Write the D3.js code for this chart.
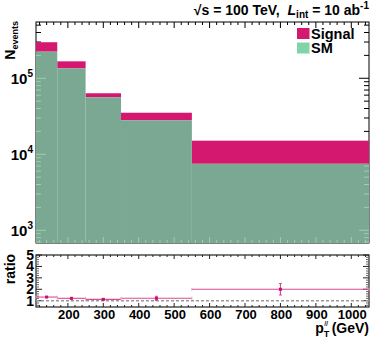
<!DOCTYPE html>
<html>
<head>
<meta charset="utf-8">
<script src="https://cdn.jsdelivr.net/npm/d3@7"></script>
<style>
  body { margin: 0; background: #fff; }
  text { font-family: "Liberation Sans", Arial, sans-serif; font-weight: bold; fill: #000; }
</style>
</head>
<body>
<div class="chart"></div>
<script>
// Bin edges of the pT(ll) histogram (GeV)
const binEdges = [110, 170, 250, 350, 550, 1050];
// Stacked event counts per bin
const smValues = [224000, 135000, 56300, 28000, 7500];
const signalValues = [74000, 32000, 7200, 7200, 7600];
// Ratio (Signal+SM)/SM with errors
const ratioCenters = [140, 210, 300, 450, 800];
const ratioValues = [1.32, 1.21, 1.12, 1.21, 2.0];
const ratioErrors = [0.04, 0.06, 0.06, 0.18, 0.5];
// Tick labels
const xTickLabels = [200, 300, 400, 500, 600, 700, 800, 900, 1000];
const yTickExponents = [3, 4, 5];
const ratioTickLabels = [1, 2, 3, 4, 5];

const W = 374, H = 340;
const left = 36, right = 369;
const top1 = 22, bottom1 = 243;
const top2 = 255, bottom2 = 307;

const sigColor = "#d4176f";
const smColor = "#7aa892";
const smLegend = "#80d4a8";

const svg = d3.select(".chart").append("svg")
    .attr("width", W).attr("height", H);

const x = d3.scaleLinear().domain([110, 1050]).range([left, right]);
const y = d3.scaleLog().domain([680, 550000]).range([bottom1, top1]);
const yr = d3.scaleLinear().domain([0.45, 5.0]).range([bottom2, top2]);

const bins = smValues.map((v, i) => ({
    x0: binEdges[i], x1: binEdges[i + 1], sm: v, total: v + signalValues[i]
}));

// minor / major ticks for x
const xMajor = d3.range(200, 1001, 100);
const xMinor = d3.range(120, 1050, 20).filter(v => v % 100 !== 0);

// log ticks for upper y
const yMajor = yTickExponents.map(e => Math.pow(10, e));
const yMinor = [];
for (let e = 2; e <= 5; e++) for (let m = 2; m <= 9; m++) {
    const v = m * Math.pow(10, e);
    if (v > 680 && v < 550000) yMinor.push(v);
}

function drawUpperTicks(g, color) {
    g.selectAll(null).data(xMajor).enter().append("line")
        .attr("x1", d => x(d)).attr("x2", d => x(d))
        .attr("y1", top1).attr("y2", top1 + 6).attr("stroke", color);
    g.selectAll(null).data(xMinor).enter().append("line")
        .attr("x1", d => x(d)).attr("x2", d => x(d))
        .attr("y1", top1).attr("y2", top1 + 3).attr("stroke", color);
    g.selectAll(null).data(xMajor).enter().append("line")
        .attr("x1", d => x(d)).attr("x2", d => x(d))
        .attr("y1", bottom1).attr("y2", bottom1 - 6).attr("stroke", color);
    g.selectAll(null).data(xMinor).enter().append("line")
        .attr("x1", d => x(d)).attr("x2", d => x(d))
        .attr("y1", bottom1).attr("y2", bottom1 - 3).attr("stroke", color);
    [[left, 1], [right, -1]].forEach(([px, dir]) => {
        g.selectAll(null).data(yMajor).enter().append("line")
            .attr("x1", px).attr("x2", px + dir * 10)
            .attr("y1", d => y(d)).attr("y2", d => y(d)).attr("stroke", color);
        g.selectAll(null).data(yMinor).enter().append("line")
            .attr("x1", px).attr("x2", px + dir * 5)
            .attr("y1", d => y(d)).attr("y2", d => y(d)).attr("stroke", color);
    });
}

// Upper panel ticks and frame (under hist)
const axesUnder = svg.append("g");
drawUpperTicks(axesUnder, "#000");
axesUnder.append("rect")
    .attr("x", left).attr("y", top1)
    .attr("width", right - left).attr("height", bottom1 - top1)
    .attr("fill", "none").attr("stroke", "#000");

// Stacked histogram
svg.append("g").selectAll("rect").data(bins).enter().append("rect")
    .attr("x", d => x(d.x0)).attr("width", d => x(d.x1) - x(d.x0))
    .attr("y", d => y(d.total)).attr("height", d => y(d.sm) - y(d.total))
    .attr("fill", sigColor);
svg.append("g").selectAll("rect").data(bins).enter().append("rect")
    .attr("x", d => x(d.x0)).attr("width", d => x(d.x1) - x(d.x0))
    .attr("y", d => y(d.sm)).attr("height", d => bottom1 - y(d.sm))
    .attr("fill", smColor);

// ticks seen through the SM fill
const clip = svg.append("clipPath").attr("id", "smclip");
clip.selectAll("rect").data(bins).enter().append("rect")
    .attr("x", d => x(d.x0)).attr("width", d => x(d.x1) - x(d.x0))
    .attr("y", d => y(d.sm)).attr("height", d => bottom1 - y(d.sm));
const axesOver = svg.append("g").attr("clip-path", "url(#smclip)");
drawUpperTicks(axesOver, "#9ccfae");

// Upper y labels
const yl = svg.append("g");
yTickExponents.forEach(e => {
    const t = yl.append("text")
        .attr("x", 33).attr("y", y(Math.pow(10, e)) + 6)
        .attr("text-anchor", "end").attr("font-size", 15);
    t.append("tspan").text("10");
    t.append("tspan").attr("dy", -7).attr("font-size", 10).text(e);
});

// Y title
const yt = svg.append("text")
    .attr("transform", "translate(15,21) rotate(-90)")
    .attr("text-anchor", "end").attr("font-size", 14);
yt.append("tspan").text("N");
yt.append("tspan").attr("dy", 3).attr("font-size", 9).text("events");

// Title
const tt = svg.append("text").attr("x", 369).attr("y", 15)
    .attr("text-anchor", "end").attr("font-size", 14);
tt.append("tspan").text("\u221As = 100 TeV,\u00a0\u00a0");
tt.append("tspan").attr("font-style", "italic").text("L");
tt.append("tspan").attr("dy", 3).attr("font-size", 10).text("int");
tt.append("tspan").attr("dy", -3).text(" = 10 ab");
tt.append("tspan").attr("dy", -6).attr("font-size", 10).text("-1");

// Legend
const legend = [{ label: "Signal", color: sigColor }, { label: "SM", color: smLegend }];
const lg = svg.append("g");
legend.forEach((d, i) => {
    lg.append("rect").attr("x", 297).attr("y", 28 + i * 14.5)
        .attr("width", 12.5).attr("height", 11).attr("fill", d.color);
    lg.append("text").attr("x", 311).attr("y", 38.5 + i * 14.5)
        .attr("font-size", 14.5).text(d.label);
});

// ---- Ratio panel ----
const rg = svg.append("g");
rg.append("rect")
    .attr("x", left).attr("y", top2)
    .attr("width", right - left).attr("height", bottom2 - top2)
    .attr("fill", "none").attr("stroke", "#222").attr("stroke-width", 1.2);

const rMinor = d3.range(0.6, 5.0, 0.2).filter(v => Math.abs(v - Math.round(v)) > 0.01);
[[top2, 1], [bottom2, -1]].forEach(([py, dir]) => {
    rg.selectAll(null).data(xMajor).enter().append("line")
        .attr("x1", d => x(d)).attr("x2", d => x(d))
        .attr("y1", py).attr("y2", py + dir * 4).attr("stroke", "#222");
    rg.selectAll(null).data(xMinor).enter().append("line")
        .attr("x1", d => x(d)).attr("x2", d => x(d))
        .attr("y1", py).attr("y2", py + dir * 2).attr("stroke", "#222");
});
[[left, 1], [right, -1]].forEach(([px, dir]) => {
    rg.selectAll(null).data(ratioTickLabels).enter().append("line")
        .attr("x1", px).attr("x2", px + dir * 6)
        .attr("y1", d => yr(d)).attr("y2", d => yr(d)).attr("stroke", "#222");
    rg.selectAll(null).data(rMinor).enter().append("line")
        .attr("x1", px).attr("x2", px + dir * 3)
        .attr("y1", d => yr(d)).attr("y2", d => yr(d)).attr("stroke", "#666");
});

// dashed line at 1
rg.append("line")
    .attr("x1", left).attr("x2", right)
    .attr("y1", yr(1)).attr("y2", yr(1))
    .attr("stroke", "#999").attr("stroke-width", 1.6).attr("stroke-dasharray", "3,2");

// ratio points
const rdata = ratioValues.map((v, i) => ({
    x0: binEdges[i], x1: binEdges[i + 1], c: ratioCenters[i], v, e: ratioErrors[i]
}));
rg.selectAll(".hl").data(rdata).enter().append("line")
    .attr("x1", d => x(d.x0)).attr("x2", d => x(d.x1))
    .attr("y1", d => yr(d.v)).attr("y2", d => yr(d.v))
    .attr("stroke", "#dc4a91").attr("stroke-width", 1.1);
rg.selectAll(".cap").data(rdata.flatMap(d => [{ x: d.x0, v: d.v }, { x: d.x1, v: d.v }]))
    .enter().append("line")
    .attr("x1", d => x(d.x)).attr("x2", d => x(d.x))
    .attr("y1", d => yr(d.v) - 1.5).attr("y2", d => yr(d.v) + 1.5)
    .attr("stroke", "#ef9cc4");
rg.selectAll(".ev").data(rdata).enter().append("line")
    .attr("x1", d => x(d.c)).attr("x2", d => x(d.c))
    .attr("y1", d => yr(d.v - d.e)).attr("y2", d => yr(d.v + d.e))
    .attr("stroke", "#dc4a91").attr("stroke-width", 1.1);
rg.selectAll(".ec").data(rdata.flatMap(d => [{ c: d.c, v: d.v - d.e }, { c: d.c, v: d.v + d.e }]))
    .enter().append("line")
    .attr("x1", d => x(d.c) - 1.5).attr("x2", d => x(d.c) + 1.5)
    .attr("y1", d => yr(d.v)).attr("y2", d => yr(d.v))
    .attr("stroke", "#dc4a91");
rg.selectAll(".mk").data(rdata).enter().append("rect")
    .attr("x", d => x(d.c) - 1.5).attr("y", d => yr(d.v) - 1.5)
    .attr("width", 3).attr("height", 3).attr("fill", "#c8106a");

// ratio y labels
rg.selectAll(".ryl").data(ratioTickLabels).enter().append("text")
    .attr("x", 34).attr("y", d => yr(d) + 5)
    .attr("text-anchor", "end").attr("font-size", 14).text(d => d);

// x labels
rg.selectAll(".xl").data(xTickLabels).enter().append("text")
    .attr("x", d => x(d) + 1).attr("y", 318.5)
    .attr("text-anchor", "middle").attr("font-size", 13).text(d => d);

// ratio title
svg.append("text")
    .attr("transform", "translate(15,269) rotate(-90)")
    .attr("text-anchor", "middle").attr("font-size", 14).text("ratio");

// x title
const xt = svg.append("text").attr("x", 369).attr("y", 333)
    .attr("text-anchor", "end").attr("font-size", 14);
xt.append("tspan").text("p");
xt.append("tspan").attr("dy", 4).attr("font-size", 9).text("T");
xt.append("tspan").attr("dx", -5).attr("dy", -11).attr("font-size", 8)
    .attr("font-style", "italic").attr("font-weight", "normal").text("ll");
xt.append("tspan").attr("dy", 7).text(" (GeV)");
</script>
</body>
</html>
